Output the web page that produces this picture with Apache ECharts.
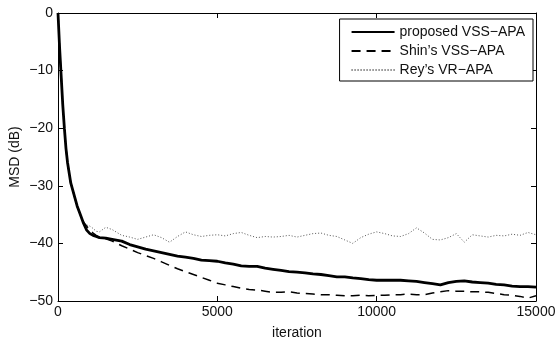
<!DOCTYPE html>
<html>
<head>
<meta charset="utf-8">
<script src="https://cdn.jsdelivr.net/npm/echarts@6/dist/echarts.min.js"></script>
<style>html,body{margin:0;padding:0;background:#fff;}#c{width:557px;height:342px;}</style>
</head>
<body>
<div id="c"></div>
<script>
var iterations = [0,50,100,150,200,250,300,400,500,600,700,800,900,1000,1100,1200,1300,1500,1700,2000,
  2250,2500,2750,3000,3250,3500,3750,4000,4250,4500,4750,5000,5250,5500,5750,6000,6250,6500,6750,7000,
  7250,7500,7750,8000,8250,8500,8750,9000,9250,9500,9750,10000,10250,10500,10750,11000,11250,11500,11750,12000,
  12250,12500,12750,13000,13250,13500,13750,14000,14250,14500,14750,15000];

var proposedMsd = [0,-6,-11,-16,-20,-23.5,-26,-29.5,-31.5,-33.5,-35,-36.5,-37.7,-38.3,-38.6,-38.8,-39.0,-39.1,-39.3,-39.6,
  -40.2,-40.6,-41.0,-41.3,-41.6,-41.9,-42.2,-42.4,-42.6,-42.9,-43.0,-43.1,-43.4,-43.6,-43.9,-44.0,-44.0,-44.3,-44.5,-44.7,
  -44.9,-45.0,-45.1,-45.3,-45.4,-45.6,-45.8,-45.8,-46.0,-46.1,-46.3,-46.4,-46.4,-46.4,-46.4,-46.5,-46.6,-46.8,-47.0,-47.2,
  -46.8,-46.6,-46.5,-46.7,-46.8,-46.9,-47.1,-47.2,-47.4,-47.5,-47.5,-47.6];

var shinMsd = [0,-6,-11,-16,-20,-23.5,-26,-29.5,-31.5,-33.5,-35,-36.3,-37.0,-37.7,-38.2,-38.6,-38.9,-39.2,-39.6,-40.4,
  -41.0,-41.6,-42.1,-42.6,-43.2,-43.8,-44.4,-44.9,-45.4,-45.9,-46.4,-46.9,-47.2,-47.5,-47.8,-48.0,-48.1,-48.3,-48.5,-48.5,
  -48.4,-48.6,-48.7,-48.8,-48.9,-48.9,-49.0,-49.1,-49.1,-49.0,-49.1,-49.0,-49.0,-48.9,-48.9,-48.8,-48.9,-48.9,-48.6,-48.4,
  -48.2,-48.3,-48.3,-48.4,-48.4,-48.5,-48.7,-48.9,-49.0,-49.2,-49.5,-49.1];

var reyMsd = [0,-6,-11,-16,-20,-23.5,-26,-29.5,-31.5,-33.5,-35,-36.3,-36.8,-37.0,-37.4,-37.9,-38.0,-37.2,-37.6,-38.6,
  -38.9,-39.3,-38.9,-38.5,-39.0,-39.8,-38.8,-38.0,-38.5,-38.8,-38.6,-38.5,-38.7,-38.3,-38.1,-38.6,-39.0,-38.8,-38.9,-38.8,
  -38.6,-38.9,-38.6,-38.3,-38.2,-38.6,-38.8,-39.4,-40.0,-39.0,-38.4,-38.0,-38.3,-38.7,-38.8,-38.3,-37.3,-38.2,-39.3,-39.4,
  -39.0,-38.3,-39.8,-38.5,-38.7,-38.9,-38.6,-38.7,-38.4,-38.6,-38.1,-38.5];

var seriesNames = ['proposed VSS\u2212APA', 'Shin\u2019s VSS\u2212APA', 'Rey\u2019s VR\u2212APA'];
var xTicks = [0, 15000, 5000];   // min, max, interval
var yTicks = [-50, 0, 10];       // min, max, interval

function pairs(vals) { return iterations.map(function (x, i) { return [x, vals[i]]; }); }
function minus(v) { return String(v).replace('-', '\u2212'); }
function plain(v) { return String(v); }

var font = 'Liberation Sans, Arial, Helvetica, sans-serif';
var fs = 14;
var tick = { show: true, inside: true, length: 5, lineStyle: { color: '#000', width: 1 } };
var line = { show: true, onZero: false, lineStyle: { color: '#000', width: 1 } };

var chart = echarts.init(document.getElementById('c'), null, { renderer: 'canvas' });
chart.setOption({
  animation: false,
  backgroundColor: '#fff',
  grid: { left: 58, right: 21, top: 13, bottom: 41, containLabel: false, outerBoundsMode: 'none' },
  legend: {
    orient: 'vertical', right: 24, top: 19,
    backgroundColor: '#fff', borderColor: '#000', borderWidth: 1, borderRadius: 0,
    padding: [6, 8, 4, 11], itemGap: 5, itemWidth: 43, itemHeight: 14,
    itemStyle: { opacity: 0 },
    textStyle: { fontFamily: font, fontSize: fs, color: '#111' },
    data: seriesNames
  },
  xAxis: [{
    type: 'value', position: 'bottom', min: xTicks[0], max: xTicks[1], interval: xTicks[2],
    name: 'iteration', nameLocation: 'middle', nameGap: 25,
    nameTextStyle: { fontFamily: font, fontSize: fs, color: '#111' },
    axisLine: line, axisTick: tick, splitLine: { show: false },
    axisLabel: { margin: 4, fontFamily: font, fontSize: fs, color: '#111', formatter: plain }
  }, {
    type: 'value', position: 'top', min: xTicks[0], max: xTicks[1], interval: xTicks[2],
    axisLine: line, axisTick: tick, splitLine: { show: false }, axisLabel: { show: false }
  }],
  yAxis: [{
    type: 'value', position: 'left', min: yTicks[0], max: yTicks[1], interval: yTicks[2],
    name: 'MSD (dB)', nameLocation: 'middle', nameGap: 36, nameRotate: 90, nameMoveOverlap: false,
    nameTextStyle: { fontFamily: font, fontSize: fs, color: '#111' },
    axisLine: line, axisTick: tick, splitLine: { show: false },
    axisLabel: { margin: 5, fontFamily: font, fontSize: fs, color: '#111', formatter: minus }
  }, {
    type: 'value', position: 'right', min: yTicks[0], max: yTicks[1], interval: yTicks[2],
    axisLine: line, axisTick: tick, splitLine: { show: false }, axisLabel: { show: false }
  }],
  series: [{
    name: seriesNames[2], type: 'line', data: pairs(reyMsd), symbol: 'none', z: 2,
    lineStyle: { color: '#555', width: 1, type: [1, 2] }, itemStyle: { color: '#555' }
  }, {
    name: seriesNames[1], type: 'line', data: pairs(shinMsd), symbol: 'none', z: 3,
    lineStyle: { color: '#000', width: 1.5, type: [9, 6] }, itemStyle: { color: '#000' }
  }, {
    name: seriesNames[0], type: 'line', data: pairs(proposedMsd), symbol: 'none', z: 4,
    lineStyle: { color: '#000', width: 2.8 }, itemStyle: { color: '#000' }
  }]
});
</script>
</body>
</html>
